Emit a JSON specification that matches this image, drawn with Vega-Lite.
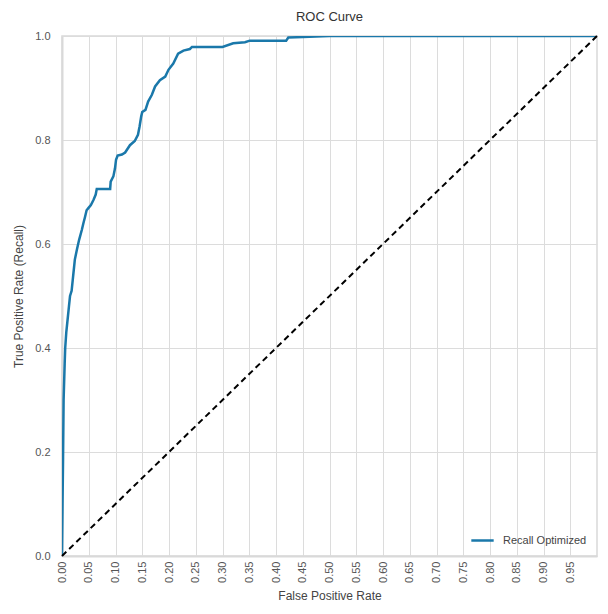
{
  "$schema": "https://vega.github.io/schema/vega-lite/v6.json",
  "autosize": "none",
  "width": 535,
  "height": 520,
  "padding": {"left": 62, "top": 36, "right": 11, "bottom": 58},
  "background": "white",
  "title": {"text": "ROC Curve", "fontSize": 13, "font": "Liberation Sans", "fontWeight": "normal", "color": "#333333", "offset": 6},
  "config": {
    "font": "Liberation Sans",
    "view": {"stroke": "#d9d9d9", "strokeWidth": 1.5},
    "axis": {"gridColor": "#dcdcdc", "gridWidth": 1, "labelColor": "#555555", "labelFontSize": 11, "titleColor": "#444444", "titleFontSize": 12, "titleFontWeight": "normal", "ticks": false, "domainColor": "#d9d9d9", "domainWidth": 2, "labelOverlap": false}
  },
  "datasets": {
    "roc": [
      {"model": "Recall Optimized", "fpr": 0.0, "tpr": 0.0},
      {"model": "Recall Optimized", "fpr": 0.001, "tpr": 0.1},
      {"model": "Recall Optimized", "fpr": 0.002, "tpr": 0.19},
      {"model": "Recall Optimized", "fpr": 0.003, "tpr": 0.3},
      {"model": "Recall Optimized", "fpr": 0.005, "tpr": 0.37},
      {"model": "Recall Optimized", "fpr": 0.006, "tpr": 0.4},
      {"model": "Recall Optimized", "fpr": 0.008, "tpr": 0.43},
      {"model": "Recall Optimized", "fpr": 0.01, "tpr": 0.45},
      {"model": "Recall Optimized", "fpr": 0.013, "tpr": 0.48},
      {"model": "Recall Optimized", "fpr": 0.015, "tpr": 0.5},
      {"model": "Recall Optimized", "fpr": 0.018, "tpr": 0.51},
      {"model": "Recall Optimized", "fpr": 0.02, "tpr": 0.53},
      {"model": "Recall Optimized", "fpr": 0.022, "tpr": 0.55},
      {"model": "Recall Optimized", "fpr": 0.024, "tpr": 0.57},
      {"model": "Recall Optimized", "fpr": 0.028, "tpr": 0.59},
      {"model": "Recall Optimized", "fpr": 0.032, "tpr": 0.608},
      {"model": "Recall Optimized", "fpr": 0.037, "tpr": 0.627},
      {"model": "Recall Optimized", "fpr": 0.04, "tpr": 0.64},
      {"model": "Recall Optimized", "fpr": 0.043, "tpr": 0.652},
      {"model": "Recall Optimized", "fpr": 0.046, "tpr": 0.665},
      {"model": "Recall Optimized", "fpr": 0.05, "tpr": 0.67},
      {"model": "Recall Optimized", "fpr": 0.054, "tpr": 0.675},
      {"model": "Recall Optimized", "fpr": 0.059, "tpr": 0.685},
      {"model": "Recall Optimized", "fpr": 0.063, "tpr": 0.695},
      {"model": "Recall Optimized", "fpr": 0.065, "tpr": 0.706},
      {"model": "Recall Optimized", "fpr": 0.09, "tpr": 0.706},
      {"model": "Recall Optimized", "fpr": 0.091, "tpr": 0.72},
      {"model": "Recall Optimized", "fpr": 0.096, "tpr": 0.73},
      {"model": "Recall Optimized", "fpr": 0.099, "tpr": 0.745},
      {"model": "Recall Optimized", "fpr": 0.101, "tpr": 0.762},
      {"model": "Recall Optimized", "fpr": 0.104, "tpr": 0.77},
      {"model": "Recall Optimized", "fpr": 0.112, "tpr": 0.772},
      {"model": "Recall Optimized", "fpr": 0.118, "tpr": 0.776},
      {"model": "Recall Optimized", "fpr": 0.127, "tpr": 0.79},
      {"model": "Recall Optimized", "fpr": 0.136, "tpr": 0.798},
      {"model": "Recall Optimized", "fpr": 0.142, "tpr": 0.81},
      {"model": "Recall Optimized", "fpr": 0.145, "tpr": 0.826},
      {"model": "Recall Optimized", "fpr": 0.148, "tpr": 0.845},
      {"model": "Recall Optimized", "fpr": 0.15, "tpr": 0.854},
      {"model": "Recall Optimized", "fpr": 0.156, "tpr": 0.858},
      {"model": "Recall Optimized", "fpr": 0.161, "tpr": 0.874},
      {"model": "Recall Optimized", "fpr": 0.168, "tpr": 0.887},
      {"model": "Recall Optimized", "fpr": 0.174, "tpr": 0.903},
      {"model": "Recall Optimized", "fpr": 0.183, "tpr": 0.915},
      {"model": "Recall Optimized", "fpr": 0.193, "tpr": 0.922},
      {"model": "Recall Optimized", "fpr": 0.199, "tpr": 0.935},
      {"model": "Recall Optimized", "fpr": 0.208, "tpr": 0.947},
      {"model": "Recall Optimized", "fpr": 0.217, "tpr": 0.966},
      {"model": "Recall Optimized", "fpr": 0.227, "tpr": 0.972},
      {"model": "Recall Optimized", "fpr": 0.239, "tpr": 0.975},
      {"model": "Recall Optimized", "fpr": 0.243, "tpr": 0.979},
      {"model": "Recall Optimized", "fpr": 0.3, "tpr": 0.979},
      {"model": "Recall Optimized", "fpr": 0.32, "tpr": 0.986},
      {"model": "Recall Optimized", "fpr": 0.342, "tpr": 0.988},
      {"model": "Recall Optimized", "fpr": 0.351, "tpr": 0.991},
      {"model": "Recall Optimized", "fpr": 0.419, "tpr": 0.991},
      {"model": "Recall Optimized", "fpr": 0.423, "tpr": 0.997},
      {"model": "Recall Optimized", "fpr": 0.45, "tpr": 0.998},
      {"model": "Recall Optimized", "fpr": 0.5, "tpr": 1.0},
      {"model": "Recall Optimized", "fpr": 1.0, "tpr": 1.0}
    ],
    "diag": [
      {"fpr": 0.0, "tpr": 0.0},
      {"fpr": 1.0, "tpr": 1.0}
    ]
  },
  "encoding": {
    "x": {"field": "fpr", "type": "quantitative", "scale": {"domain": [0, 1], "nice": false}, "title": "False Positive Rate",
      "axis": {"values": [0, 0.05, 0.1, 0.15, 0.2, 0.25, 0.3, 0.35, 0.4, 0.45, 0.5, 0.55, 0.6, 0.65, 0.7, 0.75, 0.8, 0.85, 0.9, 0.95], "format": ".2f", "labelAngle": 270, "labelPadding": 5, "titlePadding": 8, "labelOverlap": false}},
    "y": {"field": "tpr", "type": "quantitative", "scale": {"domain": [0, 1], "nice": false}, "title": "True Positive Rate (Recall)",
      "axis": {"values": [0, 0.2, 0.4, 0.6, 0.8, 1.0], "format": ".1f", "labelPadding": 12, "titlePadding": 9}}
  },
  "layer": [
    {
      "data": {"name": "roc"},
      "mark": {"type": "line", "strokeWidth": 2.5, "clip": true},
      "encoding": {
        "color": {"field": "model", "type": "nominal", "scale": {"range": ["#1a78aa"]},
          "legend": {"title": null, "orient": "bottom-right", "offset": 10, "symbolType": "stroke", "symbolStrokeWidth": 2.5, "symbolSize": 500, "labelFontSize": 11, "labelColor": "#444444", "labelOffset": 8}}
      }
    },
    {
      "data": {"name": "diag"},
      "mark": {"type": "line", "color": "black", "strokeWidth": 2, "strokeDash": [6, 4]},
      "encoding": {}
    }
  ]
}
